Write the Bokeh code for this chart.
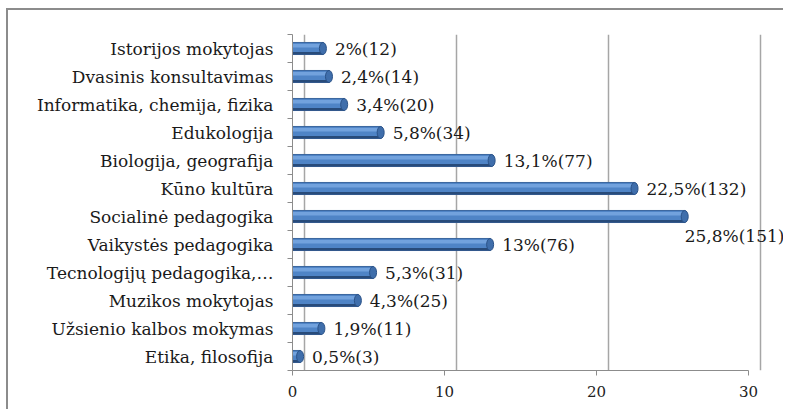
import numpy as np
from bokeh.plotting import figure
from bokeh.models import Range1d, FixedTicker, Grid, ColumnDataSource
from bokeh.transform import dodge
from bokeh.core.properties import value
from bokeh.embed import file_html
from bokeh.resources import INLINE

# ---- data (top to bottom) ----
categories = ["Istorijos mokytojas", "Dvasinis konsultavimas", "Informatika, chemija, fizika",
              "Edukologija", "Biologija, geografija", "Kūno kultūra", "Socialinė pedagogika",
              "Vaikystės pedagogika", "Tecnologijų pedagogika,…", "Muzikos mokytojas",
              "Užsienio kalbos mokymas", "Etika, filosofija"]
percents = [2, 2.4, 3.4, 5.8, 13.1, 22.5, 25.8, 13, 5.3, 4.3, 1.9, 0.5]
counts = [12, 14, 20, 34, 77, 132, 151, 76, 31, 25, 11, 3]
x_ticks = [0, 10, 20, 30]

labels = [f"{p:g}".replace(".", ",") + f"%({c})" for p, c in zip(percents, counts)]
ypos = list(range(len(categories)))

FONT = value("DejaVu Serif")
GREY = "#8c8c8c"
TXT = "#1a1a1a"

src = ColumnDataSource(dict(y=ypos, pct=percents, label=labels))
imax = int(np.argmax(percents))
rest = [i for i in ypos if i != imax]
src_lab = ColumnDataSource(dict(y=[ypos[i] for i in rest], pct=[percents[i] for i in rest],
                                label=[labels[i] for i in rest]))
src_max = ColumnDataSource(dict(y=[ypos[imax]], pct=[percents[imax]], label=[labels[imax]]))

p = figure(width=777, height=401, output_backend="svg", toolbar_location=None,
           x_range=Range1d(0, 32.43), y_range=Range1d(len(categories) - 0.5, -0.5),
           min_border_left=284, min_border_right=0, min_border_top=24, min_border_bottom=41)
p.margin = (8, 0, 0, 6)
p.styles = {"border-left": "2px solid #8c8c8c", "border-top": "2px solid #8c8c8c"}
p.outline_line_color = None
p.background_fill_color = "white"
p.border_fill_color = "white"

# back-wall grid (3D offset)
p.extra_x_ranges = {"back": Range1d(-0.8, 32.43 - 0.8)}
p.xgrid.visible = False
p.ygrid.visible = False
back_grid = Grid(dimension=0, ticker=FixedTicker(ticks=x_ticks), x_range_name="back",
                 grid_line_color="#a6a6a6", grid_line_width=1.5)
p.add_layout(back_grid)

# x axis
xa = p.xaxis[0]
xa.ticker = FixedTicker(ticks=x_ticks)
xa.bounds = (0, 30)
xa.axis_line_color = GREY
xa.major_tick_line_color = GREY
xa.major_tick_out = 5
xa.major_tick_in = 0
xa.minor_tick_line_color = None
xa.major_label_text_font = "DejaVu Serif"
xa.major_label_text_font_size = "15px"
xa.major_label_text_color = "#222222"
xa.major_label_standoff = 10

# y axis
ya = p.yaxis[0]
ya.ticker = FixedTicker(ticks=ypos, minor_ticks=[i - 0.5 for i in range(len(categories) + 1)])
ya.major_label_overrides = {i: c for i, c in zip(ypos, categories)}
ya.axis_line_color = GREY
ya.major_tick_line_color = None
ya.major_tick_out = 0
ya.major_tick_in = 0
ya.minor_tick_line_color = GREY
ya.minor_tick_out = 5
ya.minor_tick_in = 0
ya.major_label_text_font = "DejaVu Serif"
ya.major_label_text_font_size = "17px"
ya.major_label_text_color = TXT
ya.major_label_standoff = 14

# bars (cylinder look)
p.hbar(y="y", left=0, right="pct", height=0.43, source=src,
       fill_color="#4f84c6", line_color="#3a659e", line_width=1)
p.hbar(y=dodge("y", -0.1, range=p.y_range), left=0, right="pct", height=0.12, source=src,
       fill_color="#72a2dd", line_color=None)
p.hbar(y=dodge("y", 0.17, range=p.y_range), left=0, right="pct", height=0.09, source=src,
       fill_color="#284b7a", line_color=None)
p.ellipse(x="pct", y="y", width=7, width_units="screen", height=0.43, source=src,
          fill_color="#3f6eab", line_color="#2a5288", line_width=1)

# value labels
p.text(x="pct", y="y", text="label", source=src_lab, x_offset=12, text_baseline="middle",
       text_align="left", text_font=FONT, text_font_size="17px", text_color=TXT)
p.text(x="pct", y="y", text="label", source=src_max, x_offset=0, y_offset=19,
       text_baseline="middle", text_align="left", text_font=FONT, text_font_size="17px",
       text_color=TXT)

open("out.html", "w").write(file_html(p, INLINE))
